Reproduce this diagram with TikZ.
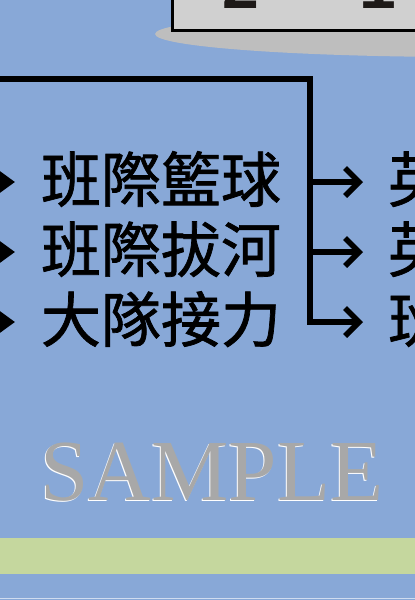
\documentclass[tikz,border=0pt]{standalone}
\usepackage{fontspec}
\setmainfont{Liberation Serif}
\newfontfamily\cjk[FakeBold=1.2]{Noto Sans CJK TC}
\newfontfamily\headfont{Liberation Sans}
\usetikzlibrary{arrows.meta,positioning}
\definecolor{SkyBg}     {RGB}{136,168,215}
\definecolor{PanelGray} {RGB}{208,208,208}
\definecolor{ShadowGray}{RGB}{190,190,190}
\definecolor{LeafGreen} {RGB}{197,215,158}
\definecolor{MarkGray}  {RGB}{168,168,168}
\definecolor{InkDark}   {RGB}{30, 26,  24}

\tikzset{
  item/.style={anchor=base,inner sep=0pt,font=\cjk\fontsize{60}{60}\selectfont},
  link/.style={line width=5.5pt,-{Straight Barb[length=14pt,width=28pt]}},
  feed/.style={line width=5.5pt,-{Triangle[length=16pt,width=22pt]}},
}

\begin{document}
\begin{tikzpicture}[x=1pt,y=-1pt]
        \useasboundingbox (0,0) rectangle (415,600);
        \clip (0,0) rectangle (415,600);
        \fill[SkyBg] (0,0) rectangle (415,600);
        % title panel with its shadow
        \fill[ShadowGray] (470,34) ellipse [x radius=315, y radius=23];
        \draw[line width=3pt,fill=PanelGray] (172,-10) rectangle (440,30);
        \node[anchor=base,inner sep=0pt,text=InkDark,font=\headfont\bfseries\fontsize{66}{66}\selectfont] (yr2) at (241,8) {2};
        \node[anchor=base,inner sep=0pt,text=InkDark,font=\headfont\bfseries\fontsize{66}{66}\selectfont] (yr1) at (378,8) {1};
        % rows
        \foreach \n/\y/\txt/\nxt in {1/182/班際籃球/英,2/252/班際拔河/英,3/322/大隊接力/班}{
          \pgfmathsetmacro{\b}{\y+20}
          \node[item] (t\n) at (161,\b) {\txt};
          \node[item,anchor=base west] (r\n) at (388,\b) {\nxt};
          \coordinate (in\n) at (-12,\y);
          \coordinate (head\n) at (15,\y);
          \coordinate (fork\n) at (310,\y);
          \coordinate (tip\n) at (363,\y);
          \draw[feed] (in\n) -- (head\n);
        }
        \coordinate (feedin) at (-5,79);
        \coordinate (trunk) at (310,79);
        \draw[link] (feedin) -- (trunk) -- (fork3) -- (tip3);
        \draw[link] (fork1) -- (tip1);
        \draw[link] (fork2) -- (tip2);
        % watermark
        \node[anchor=base,inner sep=0pt,text=white,font=\fontsize{87}{87}\selectfont] (markshade) at (211,501) {SAMPLE};
        \node[anchor=base,inner sep=0pt,text=MarkGray,font=\fontsize{87}{87}\selectfont] (mark) at (212,500) {SAMPLE};
        % bottom band
        \fill[LeafGreen] (0,538) rectangle (415,574);
        \draw[line width=1.5pt,white!60!SkyBg] (0,598.5) -- (415,598.5);
      \end{tikzpicture}
\end{document}
